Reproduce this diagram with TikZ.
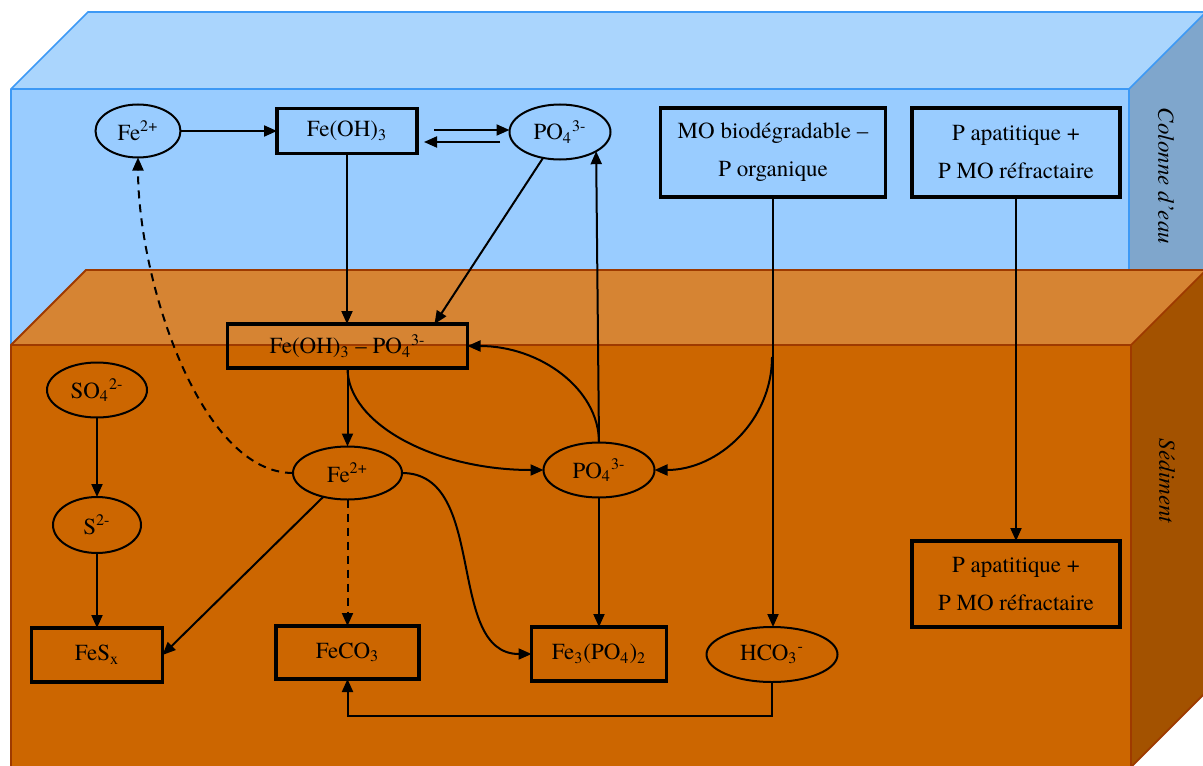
\documentclass[tikz,border=0pt]{standalone}
\usepackage{fontspec}
\setmainfont{TeX Gyre Termes}
\usetikzlibrary{arrows.meta,calc,shapes.geometric}
\definecolor{bluetop}{HTML}{AAD5FD}
\definecolor{bluefront}{HTML}{99CCFF}
\definecolor{blueside}{HTML}{7FA6CC}
\definecolor{blueline}{HTML}{3D99F5}
\definecolor{sedtop}{HTML}{D68433}
\definecolor{sedfront}{HTML}{CC6600}
\definecolor{sedside}{HTML}{A35200}
\definecolor{sedline}{HTML}{9E3A00}
\begin{document}
\begin{tikzpicture}[x=0.5pt,y=0.5pt,
 every node/.style={font=\rmfamily\fontsize{11.5}{19}\selectfont, inner sep=0pt, outer sep=0pt},
 box/.style={draw, line width=1.6pt, rectangle, align=center},
 oval/.style={draw, line width=1pt, ellipse},
 arr/.style={line width=1pt, -{Triangle[length=6.5pt,width=5.5pt]}},
 dsh/.style={dash pattern=on 4pt off 3pt},
 sidelabel/.style={font=\rmfamily\fontsize{11.5}{14}\selectfont\itshape, rotate=-90},
 edgeb/.style={blueline, line width=0.8pt},
 edges/.style={sedline, line width=0.9pt}
]
\useasboundingbox (0,0) rectangle (1203,-765);
% water column block
\fill[bluefront] (11,-89) rectangle (1129,-345);
\fill[bluetop] (11,-89) -- (88,-12) -- (1206,-12) -- (1129,-89) -- cycle;
\fill[blueside] (1129,-89) -- (1206,-12) -- (1206,-345) -- (1129,-345) -- cycle;
\draw[edgeb] (11,-345) -- (11,-89) -- (88,-12) -- (1206,-12);
\draw[edgeb] (11,-89) -- (1129,-89) -- (1206,-12);
\draw[edgeb] (1129,-89) -- (1129,-345);
% sediment block
\fill[sedfront] (11,-345) rectangle (1131,-770);
\fill[sedtop] (11,-345) -- (86,-270) -- (1206,-270) -- (1131,-345) -- cycle;
\fill[sedside] (1131,-345) -- (1206,-270) -- (1206,-692) -- (1131,-767) -- cycle;
\draw[edges] (11,-770) -- (11,-345) -- (86,-270) -- (1206,-270);
\draw[edges] (11,-345) -- (1131,-345) -- (1206,-270);
\draw[edges] (1131,-345) -- (1131,-770);
\draw[edges] (1131,-767) -- (1206,-692);
% side labels
\node[sidelabel] (lcol) at (1166,-176) {Colonne d’eau};
\node[sidelabel] (lsed) at (1167,-481) {Sédiment};
% nodes
\node[oval, minimum width=42.5pt, minimum height=26.5pt] (fe2t) at (138,-131) {Fe\textsuperscript{2+}};
\node[box, minimum width=70pt, minimum height=22.5pt] (foh) at (347,-131) {Fe(OH)\textsubscript{3}};
\node[oval, minimum width=50.5pt, minimum height=27.5pt] (po4t) at (560,-132) {PO\textsubscript{4}\textsuperscript{3-}};
\node[box, minimum width=112.5pt, minimum height=44.5pt] (mo) at (773,-152.5) {MO biodégradable –\\P organique};
\node[box, minimum width=104pt, minimum height=44.5pt] (pat) at (1016,-152.5) {P apatitique +\\P MO réfractaire};
\node[box, minimum width=120pt, minimum height=22pt] (fohpo) at (347.5,-346) {Fe(OH)\textsubscript{3} – PO\textsubscript{4}\textsuperscript{3-}};
\node[oval, minimum width=50pt, minimum height=27.5pt] (so4) at (97,-390) {SO\textsubscript{4}\textsuperscript{2-}};
\node[oval, minimum width=54.5pt, minimum height=26.5pt] (fe2s) at (347.5,-473) {Fe\textsuperscript{2+}};
\node[oval, minimum width=55.5pt, minimum height=27.5pt] (po4s) at (599,-470) {PO\textsubscript{4}\textsuperscript{3-}};
\node[oval, minimum width=44pt, minimum height=28pt] (s2) at (97,-525) {S\textsuperscript{2-}};
\node[box, minimum width=65.5pt, minimum height=27pt] (fesx) at (97,-655) {FeS\textsubscript{x}};
\node[box, minimum width=71.5pt, minimum height=26.5pt] (feco3) at (347.5,-652.5) {FeCO\textsubscript{3}};
\node[box, minimum width=67.5pt, minimum height=27pt] (fe3) at (599,-654) {Fe\textsubscript{3}(PO\textsubscript{4})\textsubscript{2}};
\node[oval, minimum width=65.5pt, minimum height=27.5pt] (hco3) at (772,-654.5) {HCO\textsubscript{3}\textsuperscript{-}};
\node[box, minimum width=104pt, minimum height=43pt] (pab) at (1016,-584) {P apatitique +\\P MO réfractaire};
% helper coordinates
\coordinate (d1) at (434,-130);
\coordinate (d2) at (500,-142);
\coordinate (d2e) at (424,-142);
\coordinate (mob) at (772,-357);
\coordinate (low) at (0,-716);
% connectors
\draw[arr] (fe2t.east) -- (foh.west);
\draw[arr] (d1) -- (d1 -| po4t.west);
\draw[arr] (d2) -- (d2e);
\draw[arr] (foh.south) -- (foh.south |- fohpo.north);
\draw[arr] (po4t) -- ($(fohpo.north)+(87,0)$);
\draw[arr] (fohpo.south) -- (fe2s.north);
\draw[arr] (fohpo.south) .. controls +(0,-56) and +(-109,0) .. (po4s.west);
\draw[arr] (po4s.north) .. controls +(0,54) and +(72,0) .. (fohpo.east);
\draw[arr] (po4s.north) -- (po4t.-28);
\draw[arr] (mo.south) -- (mo.south |- hco3.north);
\draw[arr] (mob) to[out=-90,in=0] (po4s.east);
\draw[arr] (pat.south) -- (pab.north);
\draw[arr] (so4.south) -- (s2.north);
\draw[arr] (s2.south) -- (fesx.north);
\draw[arr,dsh] (fe2s.west) .. controls +(-93,0) and +(0,-122) .. (fe2t.south);
\draw[arr] (fe2s) -- (fesx.east);
\draw[arr,dsh] (fe2s.south) -- (feco3.north);
\draw[arr] (fe2s.east) to[out=0,in=180] (fe3.west);
\draw[arr] (po4s.south) -- (fe3.north);
\draw[arr] (hco3.south) -- (hco3.south |- low) -| (feco3.south);
\end{tikzpicture}
\end{document}
